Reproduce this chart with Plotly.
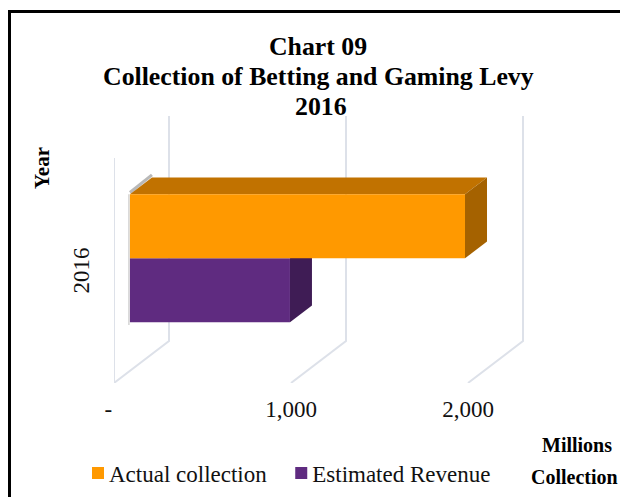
import plotly.graph_objects as go

# ---- data ----
YEARS = ["2016"]
ACTUAL = [1893]
ESTIMATED = [904]
X_TICKS = [0, 1000, 2000]
X_LABELS = ["-\u00a0\u00a0", "1,000", "2,000"]

# ---- oblique projection of the 3D box (value units / category units) ----
W, H = 620, 497
X0_PX, X1_PX = 114, 530
Y0_PX, Y1_PX = 383, 110
PX_PER_VALUE = 0.177
PX_PER_BAND = 225
DEPTH_X = 55 / PX_PER_VALUE
DEPTH_Y = 42 / PX_PER_BAND
BAR_FRONT = 0.29
BAR_BACK = 0.69
BAND_USED = 0.569


def proj(value, band, depth):
    return value + depth * DEPTH_X, band + depth * DEPTH_Y


base = BAR_FRONT * DEPTH_X
centre = 0.5 + BAR_FRONT * DEPTH_Y
half = BAND_USED / 2
d = BAR_BACK - BAR_FRONT


def poly(points, color):
    return go.Scatter(
        x=[p[0] for p in points] + [points[0][0]],
        y=[p[1] for p in points] + [points[0][1]],
        mode="lines", fill="toself", fillcolor=color,
        line=dict(color=color, width=0), showlegend=False, hoverinfo="skip",
    )


fig = go.Figure()

# wall and floor grid
gx, gy = [], []
for t in X_TICKS:
    a = proj(t, 0, 0)
    b = proj(t, 0, 1)
    c = proj(t, 1, 1)
    gx += [a[0], b[0], c[0], None]
    gy += [a[1], b[1], c[1], None]
a, b = proj(0, 0, 0), proj(0, 1, 0)
gx += [a[0], b[0]]
gy += [a[1], b[1]]
fig.add_trace(go.Scatter(x=gx, y=gy, mode="lines", showlegend=False, hoverinfo="skip",
                         line=dict(color="#dde1e9", width=2)))

# shadow at the hidden left edge
top = centre + half
bot = centre - half
dx, dy = d * DEPTH_X, d * DEPTH_Y
fig.add_trace(go.Scatter(x=[base - 6, base - 6], y=[bot - 0.012, top], mode="lines",
                         showlegend=False, hoverinfo="skip",
                         line=dict(color="#d4d4d4", width=1.5)))
fig.add_trace(go.Scatter(x=[base, base + dx], y=[top + 0.008, top + dy + 0.012], mode="lines",
                         showlegend=False, hoverinfo="skip",
                         line=dict(color="#b8b8b8", width=3)))

# orange: top and end faces
v = ACTUAL[0]
fig.add_trace(poly([(base, top), (base + v, top), (base + v + dx, top + dy), (base + dx, top + dy)], "#c17200"))
fig.add_trace(poly([(base + v, centre), (base + v, top), (base + v + dx, top + dy), (base + v + dx, centre + dy)], "#a56200"))
# purple: end face
v = ESTIMATED[0]
fig.add_trace(poly([(base + v, bot), (base + v, centre), (base + v + dx, centre + dy), (base + v + dx, bot + dy)], "#3f1c55"))

# front faces (real bars, overlaying the depth faces)
fig.add_trace(go.Bar(y=[centre], x=ESTIMATED, base=base, orientation="h", name="Estimated Revenue",
                     marker=dict(color="#5f2b80", line_width=0), xaxis="x2", yaxis="y2"))
fig.add_trace(go.Bar(y=[centre], x=ACTUAL, base=base, orientation="h", name="Actual collection",
                     marker=dict(color="#ff9900", line_width=0), xaxis="x2", yaxis="y2"))

xdom = [X0_PX / W, X1_PX / W]
ydom = [1 - Y0_PX / H, 1 - Y1_PX / H]
xr = [0, (X1_PX - X0_PX) / PX_PER_VALUE]
yr = [0, (Y0_PX - Y1_PX) / PX_PER_BAND]
FONT = "Liberation Serif"


def note(text, x, y, size, angle=0):
    return dict(text=text, xref="paper", yref="paper", x=x / W, y=1 - y / H, textangle=angle,
                xanchor="center", yanchor="middle", showarrow=False,
                font=dict(size=size, family=FONT, color="black"))


fig.update_layout(
    width=W, height=H, margin=dict(l=0, r=0, t=0, b=0, autoexpand=False),
    paper_bgcolor="white", plot_bgcolor="rgba(0,0,0,0)",
    font=dict(family=FONT, color="black"),
    barmode="group", bargap=1 - BAND_USED, bargroupgap=0,
    title=dict(text="<b>Chart 09</b>",
               font=dict(size=25.8, family=FONT, color="black"),
               x=318 / W, xanchor="center", y=1 - 46 / H, yanchor="middle", automargin=False),
    xaxis=dict(domain=xdom, range=xr, showgrid=False, zeroline=False, showline=False, automargin=False,
               tickmode="array", tickvals=X_TICKS, ticktext=X_LABELS,
               ticks="outside", ticklen=5, tickcolor="rgba(0,0,0,0)",
               tickfont=dict(size=23, family=FONT, color="#111")),
    yaxis=dict(domain=ydom, range=yr, showgrid=False, zeroline=False, showline=False, automargin=False,
               tickmode="array", tickvals=[0.485], ticktext=YEARS, tickangle=-90,
               ticks="outside", ticklen=15, tickcolor="rgba(0,0,0,0)",
               tickfont=dict(size=23, family=FONT, color="#111")),
    xaxis2=dict(domain=xdom, range=xr, overlaying="x", visible=False),
    yaxis2=dict(domain=ydom, range=yr, overlaying="y", visible=False),
    legend=dict(orientation="h", traceorder="reversed", x=69 / W, xanchor="left",
                y=1 - 473 / H, yanchor="middle", font=dict(size=23, family=FONT, color="#111"),
                bgcolor="rgba(0,0,0,0)", itemclick=False, itemdoubleclick=False),
    shapes=[dict(type="rect", xref="paper", yref="paper", x0=9.5 / W, x1=1.05, y0=-0.05, y1=1 - 11.5 / H,
                 line=dict(color="black", width=3), fillcolor="rgba(0,0,0,0)")],
    annotations=[
        note("<b>Collection of Betting and Gaming Levy</b>", 318, 76, 25.8),
        note("<b>2016</b>", 321, 107, 25.8),
        note("<b>Year</b>", 42, 168, 21, -90),
        note("<b>Millions</b>", 577, 445, 20),
        note("<b>Collection</b>", 574, 477, 20),
    ],
)

post = """
document.body.style.margin='0';document.body.style.overflow='hidden';
function moveSwatches(){document.querySelectorAll('.legend .legendpoints path').forEach(function(p){
  p.setAttribute('transform','translate(29,0)');});}
moveSwatches();
var n=0,iv=setInterval(function(){moveSwatches();if(++n>30)clearInterval(iv);},30);
"""
fig.write_html("out.html", config=dict(displayModeBar=False), post_script=post)
